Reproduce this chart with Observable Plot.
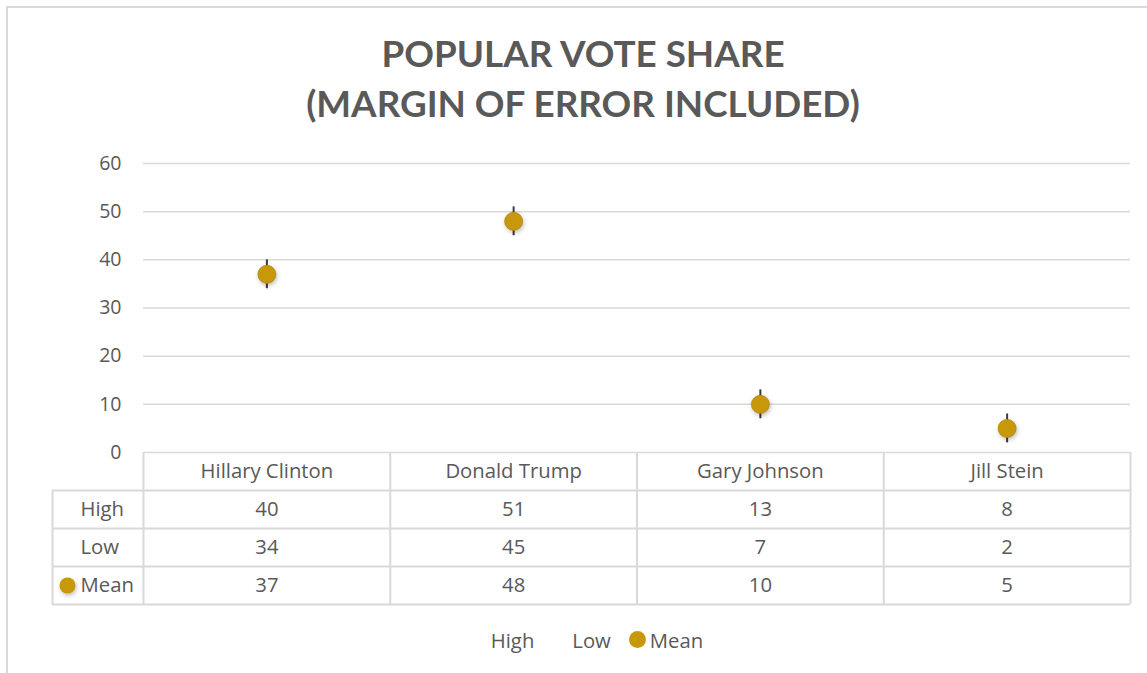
<!DOCTYPE html>
<html>
<head>
<meta charset="utf-8">
<script src="https://cdn.jsdelivr.net/npm/d3@7"></script>
<script src="https://cdn.jsdelivr.net/npm/@observablehq/plot@0.6"></script>
<style>
  html, body { margin: 0; padding: 0; background: #fff; }
  body { width: 1147px; height: 673px; position: relative; overflow: hidden; font-family: "Open Sans", Lato, sans-serif; color: #595959; }
  #border { position: absolute; left: 6px; top: 6px; width: 1200px; height: 700px; border-left: 2px solid #d9d9d9; border-top: 2px solid #d9d9d9; }
  #title { position: absolute; left: 0; top: 28px; width: 1166px; text-align: center; font-family: Lato, "Open Sans", sans-serif; font-weight: 700; font-size: 36.8px; line-height: 50px; color: #595959; }
  #chart { position: absolute; left: 0; top: 140px; }
  #legend { position: absolute; left: 0; top: 623px; width: 1194px; text-align: center; font-size: 20.3px; color: #595959; }
  #legend span { display: inline-block; vertical-align: middle; }
  .ldot { width: 17px; height: 17px; border-radius: 50%; background: #c8980b; margin-right: 4px; }
  svg g[aria-label="dot"] circle { filter: drop-shadow(1px 2px 2px rgba(0,0,0,0.25)); }
</style>
</head>
<body>
<div id="border"></div>
<div id="title">POPULAR VOTE SHARE<br>(MARGIN OF ERROR INCLUDED)</div>
<div id="chart"></div>
<div id="legend"><span>High</span><span style="margin-left:38px">Low</span><span class="ldot" style="margin-left:18px"></span><span>Mean</span></div>
<script>
const candidates = ["Hillary Clinton", "Donald Trump", "Gary Johnson", "Jill Stein"];
const high = [40, 51, 13, 8];
const low = [34, 45, 7, 2];
const mean = [37, 48, 10, 5];
const rowLabels = ["High", "Low", "Mean"];
const yTicks = [0, 10, 20, 30, 40, 50, 60];

const data = candidates.map((c, i) => ({name: c, high: high[i], low: low[i], mean: mean[i]}));
const rowValues = [high, low, mean];

const gold = "#c8980b";
const lineColor = "#d9d9d9";
const textColor = "#595959";
const font = "'Open Sans', Lato, sans-serif";
const fs = 20.3;

const W = 1147, H = 475, ML = 143, MR = 17, MT = 23, MB = 163;
const bw = (W - ML - MR) / candidates.length;
const rowH = 38;
const headerW = 91;
const plotH = H - MT - MB;

const marks = [
  Plot.gridY(yTicks, {stroke: lineColor, strokeOpacity: 1, strokeWidth: 1.5}),
  Plot.axisY(yTicks, {tickSize: 0, tickPadding: 22, fontSize: 19.5, fill: textColor}),
  // table horizontal lines
  ...[1, 2, 3, 4].map(k => Plot.ruleY([0], {dy: rowH * k, insetLeft: -headerW, stroke: lineColor, strokeWidth: 2})),
  // table vertical lines (band edges)
  Plot.ruleX(candidates, {dx: -bw / 2, insetTop: plotH, insetBottom: -rowH * 4, stroke: lineColor, strokeWidth: 2}),
  Plot.ruleX([candidates[candidates.length - 1]], {dx: bw / 2, insetTop: plotH, insetBottom: -rowH * 4, stroke: lineColor, strokeWidth: 2}),
  Plot.ruleX([candidates[0]], {dx: -bw / 2 - headerW, insetTop: plotH + rowH, insetBottom: -rowH * 4, stroke: lineColor, strokeWidth: 2}),
  // header: category names
  Plot.text(candidates, {x: d => d, frameAnchor: "bottom", lineAnchor: "middle", dy: rowH / 2, fontSize: fs, fill: textColor}),
  // row values
  ...rowValues.map((vals, r) => Plot.text(data, {x: "name", text: (d, i) => vals[i], frameAnchor: "bottom", lineAnchor: "middle", dy: rowH * (r + 1) + rowH / 2, fontSize: fs, fill: textColor})),
  // row headers
  ...rowLabels.map((lab, r) => Plot.text([lab], {frameAnchor: "bottom-left", lineAnchor: "middle", dx: -63, dy: rowH * (r + 1) + rowH / 2, textAnchor: "start", fontSize: fs, fill: textColor})),
  Plot.dot([rowLabels[2]], {frameAnchor: "bottom-left", dx: -76, dy: rowH * 3 + rowH / 2, r: 8, fill: gold}),
  // error bars
  Plot.ruleX(data, {x: "name", y1: "low", y2: "high", stroke: "#3a3a3a", strokeWidth: 2}),
  // means
  Plot.dot(data, {x: "name", y: "mean", r: 9, fill: gold, stroke: "#b8890a", strokeWidth: 0.8})
];

const chart = Plot.plot({
  width: W,
  height: H,
  marginLeft: ML,
  marginRight: MR,
  marginTop: MT,
  marginBottom: MB,
  style: {fontFamily: font, color: textColor, background: "transparent", overflow: "visible"},
  x: {type: "band", domain: candidates, padding: 0, round: false, axis: null},
  y: {domain: [0, 60], axis: null},
  marks
});
document.getElementById("chart").appendChild(chart);
</script>
</body>
</html>
